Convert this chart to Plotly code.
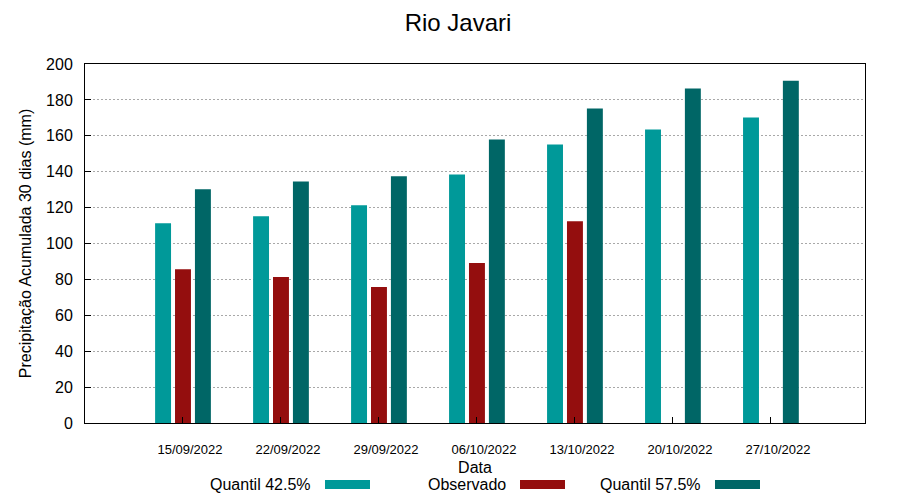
import plotly.graph_objects as go

dates = ["15/09/2022", "22/09/2022", "29/09/2022", "06/10/2022",
         "13/10/2022", "20/10/2022", "27/10/2022"]
q425 = [111.3, 115.2, 121.3, 138.5, 155.2, 163.5, 170.2]
observado = [85.7, 81.3, 75.7, 89.1, 112.4, None, None]
q575 = [130.2, 134.6, 137.4, 158.0, 175.2, 186.3, 190.7]

series_names = ["Quantil 42.5%", "Observado", "Quantil 57.5%"]
colors = ["#009999", "#940e0e", "#006666"]
y_ticks = list(range(0, 201, 20))

x_idx = list(range(len(dates)))
fig = go.Figure()
for name, vals, col in zip(series_names, [q425, observado, q575], colors):
    fig.add_trace(go.Bar(x=x_idx, y=vals, name=name, marker_color=col,
                         marker_line_width=0, showlegend=False))

FONT = "Liberation Sans, Arial, sans-serif"
fig.update_layout(
    width=900, height=500,
    margin=dict(l=77, r=43, t=56, b=85),
    paper_bgcolor="white", plot_bgcolor="white",
    barmode="group", bargap=0.39, bargroupgap=0.2,
    font=dict(family=FONT, color="black"),
    title=dict(text="Rio Javari", x=0.5, xanchor="center", y=0.97, yanchor="middle",
               font=dict(size=24, family=FONT, color="black")),
)
fig.update_xaxes(
    range=[-1, 6.96], tickmode="array", tickvals=x_idx, ticktext=dates,
    ticks="inside", ticklen=6, tickcolor="black", tickwidth=1,
    showline=True, linecolor="black", linewidth=1, mirror=True,
    showgrid=False, zeroline=False,
    tickfont=dict(size=13, family=FONT, color="black"),
    ticklabelshift=7, ticklabelstandoff=14,
    title=dict(text="Data", font=dict(size=16, family=FONT, color="black"), standoff=6),
)
fig.update_yaxes(
    range=[0, 200], tickmode="array", tickvals=y_ticks,
    ticks="inside", ticklen=6, tickcolor="black",
    showline=True, linecolor="black", linewidth=1, mirror=True,
    showgrid=True, gridcolor="#a8a8a8", gridwidth=1, griddash="2px,2px",
    zeroline=False,
    tickfont=dict(size=16, family=FONT, color="black"),
    ticklabelstandoff=8,
    title=dict(text="Precipitação Acumulada 30 dias (mm)",
               font=dict(size=16, family=FONT, color="black"), standoff=10),
)

# manual legend (text left of sample, gnuplot style); positions in page pixels
plot_left, plot_bottom, plot_w, plot_h = 85.0, 423.0, 780.0, 359.0
def px_x(p):
    return (p - plot_left) / plot_w
def px_y(p):
    return (plot_bottom - p) / plot_h

legend_text_right = [313, 508, 703]
legend_swatch = [(325, 370), (520, 565), (715, 760)]
for name, col, tr, (s0, s1) in zip(series_names, colors, legend_text_right, legend_swatch):
    fig.add_annotation(x=px_x(tr), y=px_y(484), xref="paper", yref="paper",
                       text=name, showarrow=False, xanchor="right", yanchor="middle",
                       font=dict(size=16, family=FONT, color="black"))
    fig.add_shape(type="rect", xref="paper", yref="paper",
                  x0=px_x(s0), x1=px_x(s1), y0=px_y(489), y1=px_y(480),
                  fillcolor=col, line_width=0)

fig.write_html("out.html")
